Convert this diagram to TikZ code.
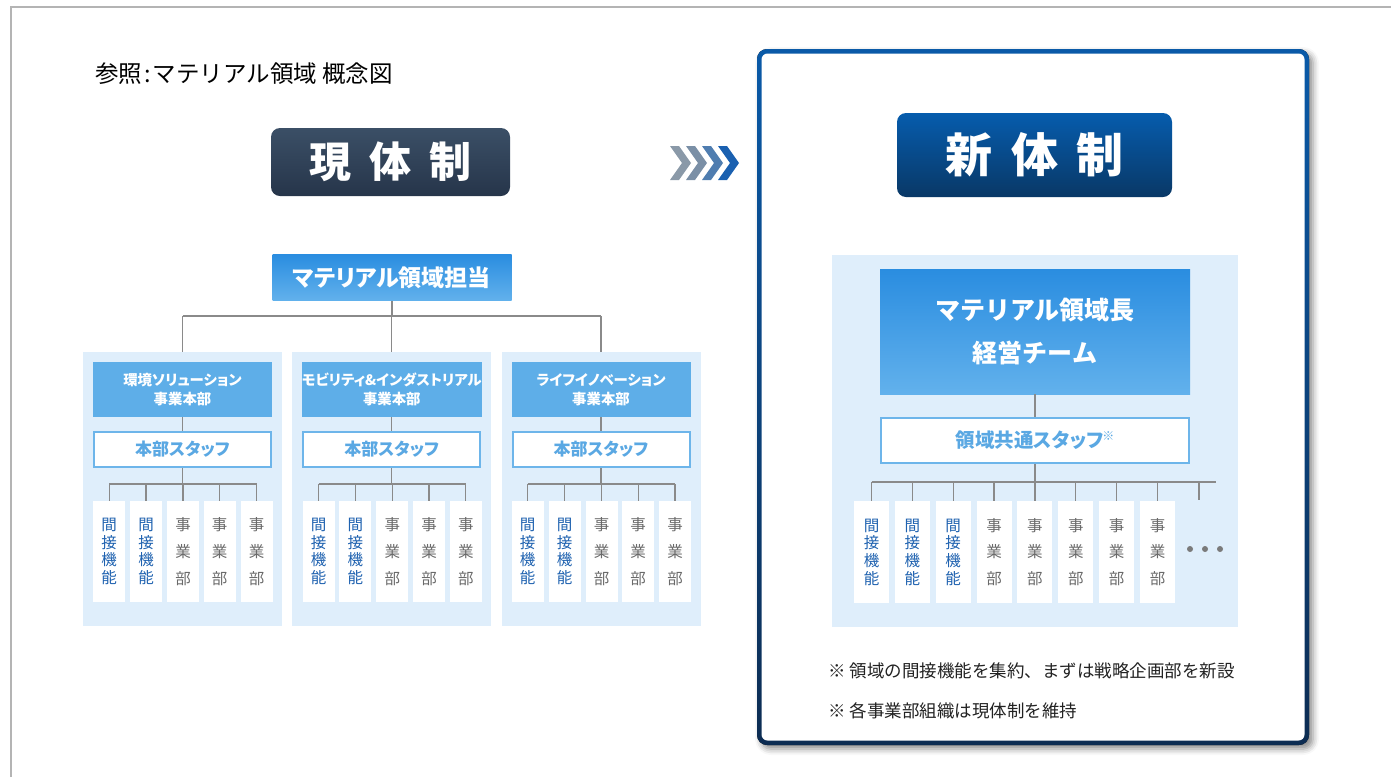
\documentclass[tikz,border=0pt]{standalone}
\usepackage{fontspec}
\setmainfont{Noto Sans CJK JP}
\newfontfamily\jpp{Noto Sans CJK JP}[RawFeature=+palt]
\usetikzlibrary{shadows.blur}
\definecolor{framegray}{HTML}{B4B4B4}
\definecolor{panelbg}{HTML}{DFEEFB}
\definecolor{hdrc}{HTML}{5EAEE8}
\definecolor{staffc}{HTML}{6DB5EA}
\definecolor{stafftc}{HTML}{5AA8E3}
\definecolor{gradtop}{HTML}{2A8DE0}
\definecolor{gradbot}{HTML}{62B1EC}
\definecolor{kanc}{HTML}{1F62B0}
\definecolor{jigc}{HTML}{6A6A6A}
\definecolor{connc}{HTML}{8A8A8A}
\definecolor{gentop}{HTML}{3B4F66}
\definecolor{genbot}{HTML}{26354A}
\definecolor{shintop}{HTML}{065CAD}
\definecolor{shinbot}{HTML}{093866}
\definecolor{frtop}{HTML}{0A5AA8}
\definecolor{frbot}{HTML}{0C2C52}
\definecolor{chevA}{HTML}{8A99A8}
\definecolor{chevB}{HTML}{7A8FA6}
\definecolor{chevC}{HTML}{4F7DB0}
\definecolor{chevD}{HTML}{1A60B0}
\definecolor{notec}{HTML}{222222}
\definecolor{dotc}{HTML}{7A7A7A}
\begin{document}
\begin{tikzpicture}[x=1pt,y=-1pt,
  conn/.style={draw=connc, line width=1.3pt},
  panelbox/.style={rectangle, fill=panelbg, draw=none, inner sep=0pt},
  hdr/.style={rectangle, fill=hdrc, text=white, inner sep=0pt, align=center,
    font=\jpp\bfseries\fontsize{14.4}{19}\selectfont, minimum width=179pt, minimum height=55pt},
  staffbox/.style={rectangle, fill=white, draw=staffc, line width=2pt, text=stafftc, inner sep=0pt},
  col/.style={rectangle, fill=white, inner sep=0pt, align=center, minimum height=101pt},
  kan/.style={col, text=kanc, font=\fontsize{15.5}{17.7}\selectfont},
  jig/.style={col, text=jigc, font=\fontsize{15.5}{26.7}\selectfont},
  gradbox/.style={rectangle, top color=gradtop, bottom color=gradbot, text=white, inner sep=0pt, align=center},
  titlebox/.style={rectangle, rounded corners=9pt, text=white, inner sep=0pt}
]
\useasboundingbox (0,0) rectangle (1391,777);
% outer gray frame
\draw[framegray, line width=2pt] (10.5,777) -- (10.5,7) -- (1391,7);

% title
\node[anchor=west, inner sep=0pt, font=\fontsize{23.5}{23.5}\selectfont] (title) at (95,74) {参照\hspace{2pt}:\hspace{2pt}マテリアル領域 概念図};

% new system frame
\fill[rounded corners=10pt, top color=frtop, bottom color=frbot,
  blur shadow={shadow xshift=4pt, shadow yshift=-4pt, shadow blur radius=6pt, shadow opacity=45}]
  (757,49) rectangle (1309,745);
\fill[white, rounded corners=6pt] (761.5,53.5) rectangle (1304.5,740.5);

% title boxes
\node[titlebox, top color=gentop, bottom color=genbot, minimum width=239pt, minimum height=68pt,
  font=\bfseries\fontsize{42}{42}\selectfont] (gen) at (390.5,162) {現\hspace{18pt}体\hspace{18pt}制};
\node[titlebox, top color=shintop, bottom color=shinbot, minimum width=275pt, minimum height=84pt,
  font=\bfseries\fontsize{47}{47}\selectfont] (shin) at (1034.5,155) {新\hspace{19pt}体\hspace{19pt}制};

% chevrons
\foreach \i/\c in {0/chevA,1/chevB,2/chevC,3/chevD}
  \fill[\c] ({670+16*\i},146) -- ++(9,0) -- ++(12,17) -- ++(-12,17) -- ++(-9,0) -- ++(12,-17) -- cycle;

% current structure
\node[gradbox, minimum width=239pt, minimum height=46pt, font=\jpp\bfseries\fontsize{23}{23}\selectfont] (A) at (392,277.5) {マテリアル領域担当};
\coordinate (T) at (392,316);

\foreach \p/\dx/\hA in {1/0/環境ソリューション, 2/209.3/モビリティ\&インダストリアル, 3/418.5/ライフイノベーション}{
  \node[panelbox, minimum width=199pt, minimum height=274pt] (P\p) at (182.5+\dx,489) {};
  \node[hdr] (H\p) at (182.5+\dx,389.5) {\hA\\事業本部};
  \node[staffbox, minimum width=177pt, minimum height=35pt, font=\jpp\bfseries\fontsize{17}{17}\selectfont] (S\p) at (182.5+\dx,449.5) {本部スタッフ};
  \draw[conn] (H\p) -- (S\p);
  \coordinate (J\p) at (182.5+\dx,484);
  \draw[conn] (S\p) -- (J\p);
  \node[kan, minimum width=32pt] (C\p-1) at (109.2+\dx,551.5) {間\\接\\機\\能};
  \node[kan, minimum width=32pt] (C\p-2) at (146+\dx,551.5) {間\\接\\機\\能};
  \node[jig, minimum width=32pt] (C\p-3) at (183+\dx,551.5) {事\\業\\部};
  \node[jig, minimum width=32pt] (C\p-4) at (219.7+\dx,551.5) {事\\業\\部};
  \node[jig, minimum width=32pt] (C\p-5) at (256.5+\dx,551.5) {事\\業\\部};
  \draw[conn] (C\p-1.north |- J\p) -- (C\p-5.north |- J\p);
  \foreach \k in {1,...,5} \draw[conn] (C\p-\k.north |- J\p) -- (C\p-\k.north);
}
\draw[conn] (A) -- (T);
\draw[conn] (P1.north |- T) -- (P3.north |- T);
\foreach \p in {1,2,3} \draw[conn] (P\p.north |- T) -- (P\p.north);

% new structure
\node[panelbox, minimum width=406pt, minimum height=372pt] (NP) at (1035,441) {};
\node[gradbox, minimum width=310pt, minimum height=125pt, font=\bfseries\fontsize{25}{43}\selectfont] (M) at (1035,331.5) {マテリアル領域長\\経営チーム};
\node[staffbox, minimum width=308pt, minimum height=45pt, font=\jpp\bfseries\fontsize{19.5}{19.5}\selectfont] (CS) at (1035,440.5)
  {領域共通スタッフ\hspace{-1pt}\raisebox{0.4em}{\fontsize{12}{12}\selectfont ※}};
\draw[conn] (M) -- (CS);
\coordinate (NJ) at (1035,482);
\draw[conn] (CS) -- (NJ);
\foreach \i in {0,1,2}
  \node[kan, minimum width=35pt, minimum height=102pt] (N\i) at ({871.5+40.86*\i},552) {間\\接\\機\\能};
\foreach \i in {3,...,7}
  \node[jig, minimum width=35pt, minimum height=102pt] (N\i) at ({871.5+40.86*\i},552) {事\\業\\部};
\coordinate (NE) at (1216,482);
\coordinate (NX) at (1199,500);
\draw[conn] (N0.north |- NJ) -- (NE);
\foreach \i in {0,...,7} \draw[conn] (N\i.north |- NJ) -- (N\i.north);
\draw[conn] (NX |- NJ) -- (NX);
\foreach \x in {1190,1205,1220} \fill[dotc] (\x,549) circle[radius=3pt];

% notes
\node[anchor=west, inner sep=0pt, text=notec, font=\fontsize{17.5}{17.5}\selectfont] (n1) at (828,671) {※ 領域の間接機能を集約、まずは戦略企画部を新設};
\node[anchor=west, inner sep=0pt, text=notec, font=\fontsize{17.5}{17.5}\selectfont] (n2) at (828,711) {※ 各事業部組織は現体制を維持};
\end{tikzpicture}
\end{document}
